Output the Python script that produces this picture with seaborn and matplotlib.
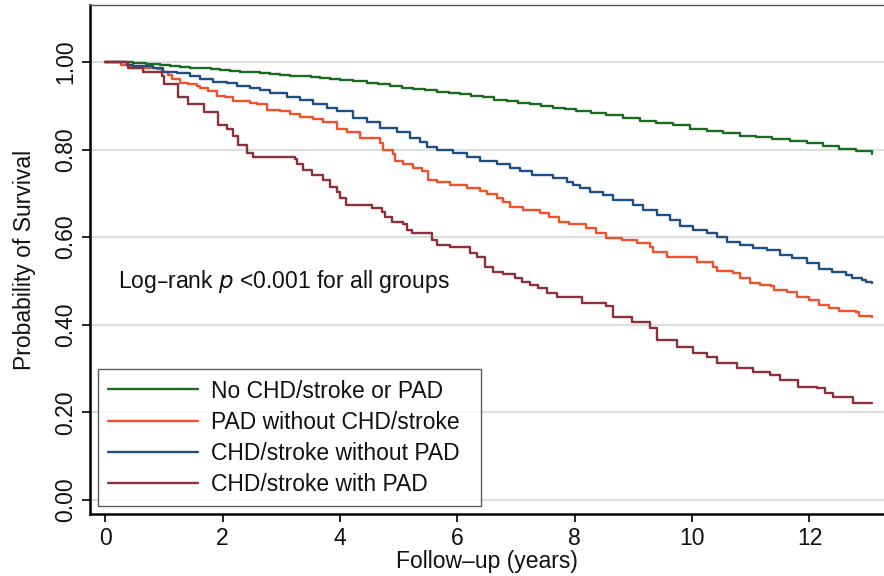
import numpy as np
import pandas as pd
import matplotlib
matplotlib.use("Agg")
import matplotlib.pyplot as plt
import seaborn as sns

# Kaplan-Meier step estimates: time (years) at which each survival level starts
groups = ["No CHD/stroke or PAD", "PAD without CHD/stroke",
          "CHD/stroke without PAD", "CHD/stroke with PAD"]
colors = ["#1c6b22", "#f2512a", "#1f4f82", "#8e2f3c"]

t_none = [0, 0.25, 0.48, 0.70, 0.94, 1.10, 1.28, 1.45, 1.62, 1.80, 1.96, 2.13, 2.30,
          2.47, 2.64, 2.81, 2.98, 3.15, 3.32, 3.50, 3.66, 3.83, 4.00, 4.23, 4.46, 4.65,
          4.85, 5.05, 5.24, 5.45, 5.65, 5.85, 6.04, 6.23, 6.43, 6.63, 6.84, 7.03, 7.23,
          7.43, 7.63, 7.83, 8.03, 8.28, 8.54, 8.82, 9.11, 9.39, 9.67, 9.96, 10.25,
          10.53, 10.81, 11.09, 11.37, 11.66, 11.95, 12.23, 12.51, 12.79, 13.07]
s_none = [1.0, 1.0, 0.998, 0.996, 0.993, 0.991, 0.989, 0.987, 0.986, 0.984, 0.982,
          0.980, 0.978, 0.977, 0.975, 0.973, 0.971, 0.969, 0.967, 0.966, 0.964, 0.961,
          0.958, 0.956, 0.953, 0.949, 0.945, 0.941, 0.938, 0.935, 0.932, 0.929, 0.926,
          0.923, 0.919, 0.914, 0.910, 0.907, 0.903, 0.900, 0.896, 0.892, 0.888, 0.884,
          0.880, 0.873, 0.866, 0.861, 0.855, 0.848, 0.842, 0.837, 0.832, 0.828, 0.824,
          0.819, 0.814, 0.808, 0.802, 0.796, 0.791]

t_pad = [0, 0.26, 0.43, 0.89, 0.97, 1.07, 1.14, 1.28, 1.41, 1.56, 1.61, 1.75, 1.90,
         2.04, 2.17, 2.47, 2.59, 2.76, 2.98, 3.15, 3.32, 3.54, 3.71, 3.95, 4.12, 4.34,
         4.68, 4.73, 4.90, 4.94, 5.07, 5.24, 5.40, 5.50, 5.65, 5.87, 6.16, 6.38, 6.50,
         6.67, 6.77, 6.89, 7.11, 7.40, 7.57, 7.74, 7.91, 8.20, 8.37, 8.54, 8.80, 9.06,
         9.28, 9.33, 9.57, 10.08, 10.35, 10.42, 10.69, 10.81, 10.98, 11.15, 11.35,
         11.40, 11.61, 11.78, 12.00, 12.17, 12.34, 12.51, 12.80, 12.85, 13.07]
s_pad = [1.0, 0.994, 0.987, 0.983, 0.978, 0.970, 0.960, 0.953, 0.949, 0.944, 0.941,
         0.933, 0.923, 0.919, 0.910, 0.907, 0.903, 0.891, 0.887, 0.882, 0.875, 0.869,
         0.862, 0.848, 0.839, 0.827, 0.816, 0.800, 0.789, 0.773, 0.766, 0.759, 0.750,
         0.731, 0.725, 0.718, 0.713, 0.706, 0.699, 0.690, 0.681, 0.670, 0.663, 0.656,
         0.647, 0.635, 0.629, 0.622, 0.610, 0.599, 0.594, 0.587, 0.578, 0.567, 0.555,
         0.544, 0.533, 0.523, 0.519, 0.507, 0.496, 0.491, 0.489, 0.480, 0.475, 0.464,
         0.457, 0.446, 0.439, 0.432, 0.430, 0.420, 0.418]

t_chd = [0, 0.37, 0.48, 0.82, 0.99, 1.23, 1.45, 1.62, 1.84, 2.08, 2.25, 2.47, 2.64,
         2.81, 3.10, 3.32, 3.54, 3.78, 3.95, 4.22, 4.46, 4.68, 4.97, 5.19, 5.36, 5.48,
         5.65, 5.92, 6.16, 6.38, 6.67, 6.89, 7.06, 7.28, 7.63, 7.86, 7.97, 8.09, 8.26,
         8.48, 8.65, 8.99, 9.16, 9.40, 9.62, 9.79, 10.01, 10.25, 10.42, 10.59, 10.81,
         11.03, 11.27, 11.49, 11.71, 11.95, 12.17, 12.39, 12.63, 12.73, 12.90, 12.97,
         13.07]
s_chd = [1.0, 0.994, 0.990, 0.987, 0.978, 0.974, 0.967, 0.962, 0.955, 0.951, 0.944,
         0.941, 0.935, 0.928, 0.921, 0.914, 0.905, 0.896, 0.887, 0.873, 0.862, 0.850,
         0.839, 0.827, 0.818, 0.807, 0.800, 0.793, 0.784, 0.773, 0.766, 0.759, 0.750,
         0.743, 0.734, 0.727, 0.720, 0.713, 0.704, 0.697, 0.686, 0.674, 0.663, 0.651,
         0.640, 0.626, 0.617, 0.610, 0.601, 0.590, 0.583, 0.576, 0.571, 0.560, 0.553,
         0.542, 0.528, 0.521, 0.514, 0.507, 0.503, 0.498, 0.496]

t_both = [0, 0.39, 0.65, 0.97, 1.00, 1.24, 1.41, 1.68, 1.92, 2.07, 2.17, 2.26, 2.41,
          2.51, 3.24, 3.27, 3.37, 3.53, 3.71, 3.83, 3.95, 4.00, 4.10, 4.55, 4.71, 4.77,
          4.88, 5.07, 5.14, 5.22, 5.57, 5.65, 5.87, 6.21, 6.33, 6.47, 6.60, 6.77, 6.98,
          7.10, 7.23, 7.37, 7.52, 7.69, 8.13, 8.54, 8.65, 8.97, 9.28, 9.41, 9.74, 10.01,
          10.25, 10.42, 10.76, 11.03, 11.32, 11.49, 11.80, 12.13, 12.26, 12.40, 12.74,
          13.07]
s_both = [1.0, 0.987, 0.978, 0.967, 0.949, 0.920, 0.905, 0.885, 0.857, 0.846, 0.830,
          0.811, 0.793, 0.784, 0.779, 0.766, 0.754, 0.743, 0.731, 0.715, 0.704, 0.690,
          0.674, 0.667, 0.658, 0.647, 0.635, 0.629, 0.617, 0.610, 0.594, 0.583, 0.578,
          0.565, 0.555, 0.533, 0.521, 0.517, 0.507, 0.498, 0.491, 0.485, 0.473, 0.464,
          0.450, 0.443, 0.418, 0.407, 0.393, 0.366, 0.350, 0.336, 0.327, 0.313, 0.302,
          0.293, 0.286, 0.274, 0.258, 0.256, 0.245, 0.235, 0.222, 0.222]

x_ticks = [0, 2, 4, 6, 8, 10, 12]
y_ticks = [0.0, 0.2, 0.4, 0.6, 0.8, 1.0]

frames = []
for g, t, s in zip(groups, [t_none, t_pad, t_chd, t_both], [s_none, s_pad, s_chd, s_both]):
    frames.append(pd.DataFrame({"time": t, "surv": s, "group": g}))
df = pd.concat(frames, ignore_index=True)

sns.set_theme(style="white")
plt.rcParams["font.family"] = ["Liberation Sans", "DejaVu Sans"]

FS = 16.5
fig = plt.figure(figsize=(8.84, 5.76), dpi=100)
ax = fig.add_axes([0.1018, 0.1076, 0.8982, 0.8837])

for y in y_ticks:
    ax.axhline(y, color="#dedede", lw=1.6, zorder=0)

sns.lineplot(data=df, x="time", y="surv", hue="group", hue_order=groups,
             palette=colors, estimator=None, sort=False, drawstyle="steps-post",
             linewidth=1.7, legend=False, ax=ax)

ax.set_xlim(-0.26, 13.27)
ax.set_ylim(-0.032, 1.13)
ax.set_xticks(x_ticks)
ax.set_xticklabels([str(v) for v in x_ticks])
ax.set_yticks(y_ticks)
ax.set_yticklabels([f"{v:.2f}" for v in y_ticks], rotation=90, va="center")
ax.tick_params(axis="both", which="major", direction="out", length=6, width=1.2,
               color="black", labelsize=FS, labelcolor="#111111", pad=3, left=True,
               bottom=True)

for side in ["left", "bottom"]:
    ax.spines[side].set_color("black")
    ax.spines[side].set_linewidth(1.8)
ax.spines["top"].set_color("#555555")
ax.spines["top"].set_linewidth(1.0)
ax.spines["right"].set_visible(False)

ax.set_xlabel("Follow\u2013up (years)", fontsize=FS, color="#111111", labelpad=0)
ax.set_ylabel("Probability of Survival", fontsize=FS, color="#111111", labelpad=13)

ax.text(0.22, 0.498, "Log\u2013rank $\\mathit{p}$ <0.001 for all groups",
        fontsize=FS, color="#111111", ha="left", va="center")

leg = ax.legend(handles=ax.lines[len(y_ticks):], labels=groups, loc="lower left",
                bbox_to_anchor=(0.01, 0.016, 0.482, 0.2), mode="expand",
                fontsize=FS, frameon=True,
                fancybox=False, edgecolor="#333333", handlelength=3.9,
                handletextpad=0.6, labelspacing=0.35, borderpad=0.45,
                borderaxespad=0)
leg.get_frame().set_linewidth(1.0)
for line in leg.get_lines():
    line.set_linewidth(1.7)
for txt in leg.get_texts():
    txt.set_color("#111111")

fig.savefig("out.png", dpi=100)
